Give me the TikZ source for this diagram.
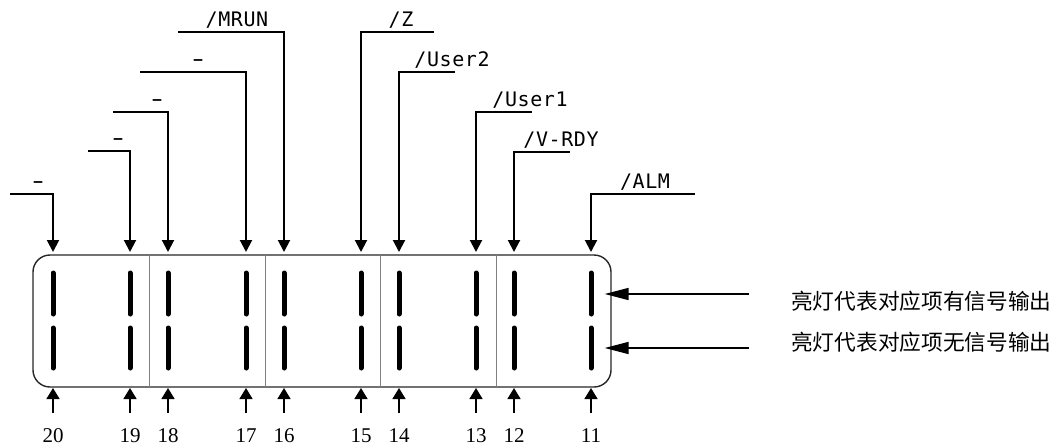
\documentclass[tikz,border=0pt]{standalone}
\usepackage{fontspec}
\usetikzlibrary{arrows.meta}
\newfontfamily\lblfont[LetterSpace=3]{DejaVu Sans Mono}
\newfontfamily\numfont{Liberation Serif}
\newfontfamily\cjk{Noto Sans CJK SC}
\newcommand{\wdash}{\scalebox{1.7}[1.1]{-}}
\begin{document}
\begin{tikzpicture}[x=1pt,y=-1pt,
  panel/.style={draw=black!85,line width=1.4pt,rounded corners=17pt,minimum width=578pt,minimum height=132pt,inner sep=0pt},
  divider/.style={draw=black!50,line width=1pt},
  led/.style={line width=5pt,line cap=round},
  sig/.style={line width=2pt,-{Triangle[length=12pt,width=12pt]}},
  upa/.style={line width=1.4pt,-{Triangle[length=11pt,width=13pt]}},
  ra/.style={line width=1.6pt,-{Triangle[length=24pt,width=12pt]}},
  lbl/.style={font=\lblfont\fontsize{20}{20}\selectfont,inner sep=0pt,anchor=base},
  num/.style={font=\numfont\fontsize{21}{21}\selectfont,inner sep=0pt,anchor=base},
  note/.style={font=\cjk\fontsize{21.7}{22}\selectfont,inner sep=0pt,anchor=west}]
\useasboundingbox (0,0) rectangle (1062,445);
\node[panel] (panel) at (322,321) {};
\foreach \x in {149,265,380,496}{\draw[divider] (\x,255) -- (\x,387);}
\foreach \n/\x in {20/53,19/130,18/168,17/246,16/284,15/361,14/399,13/476,12/514,11/591}{
  \coordinate (t\n) at (\x,252);
  \coordinate (a\n) at (\x,273);\coordinate (b\n) at (\x,314);
  \coordinate (c\n) at (\x,328);\coordinate (d\n) at (\x,368);
  \draw[led] (a\n) -- (b\n);
  \draw[led] (c\n) -- (d\n);
  \coordinate (u\n) at (\x,388);
  \coordinate (v\n) at (\x,413);
  \draw[upa] (v\n) -- (u\n);
  \node[num] (n\n) at (\x,442) {\n};
}
% top signal lines: number / end x / line y / label x / label
\foreach \n/\xs/\yh/\lx/\txt in {20/10/194/38/{\wdash},19/88/151/118/{\wdash},18/113/112/157/{\wdash},17/140/72/198/{\wdash},16/178/32/237/{/MRUN},
  15/434/32/401/{/Z},14/455/72/452/{/User2},13/532/112/530/{/User1},12/570/152/561/{/V-RDY},11/695/194/645/{/ALM}}{
  \coordinate (h\n) at (\xs,\yh);
  \draw[sig] (h\n) -| (t\n);
  \node[lbl] (l\n) at (\lx,\yh-6) {\txt};
}
\coordinate (r1) at (749,294);
\coordinate (r2) at (749,348);
\draw[ra] (r1) -- ([xshift=-7pt]panel.east|-r1);
\draw[ra] (r2) -- ([xshift=-7pt]panel.east|-r2);
\node[note] (m1) at (791,301) {亮灯代表对应项有信号输出};
\node[note] (m2) at (791,342) {亮灯代表对应项无信号输出};
\end{tikzpicture}
\end{document}
